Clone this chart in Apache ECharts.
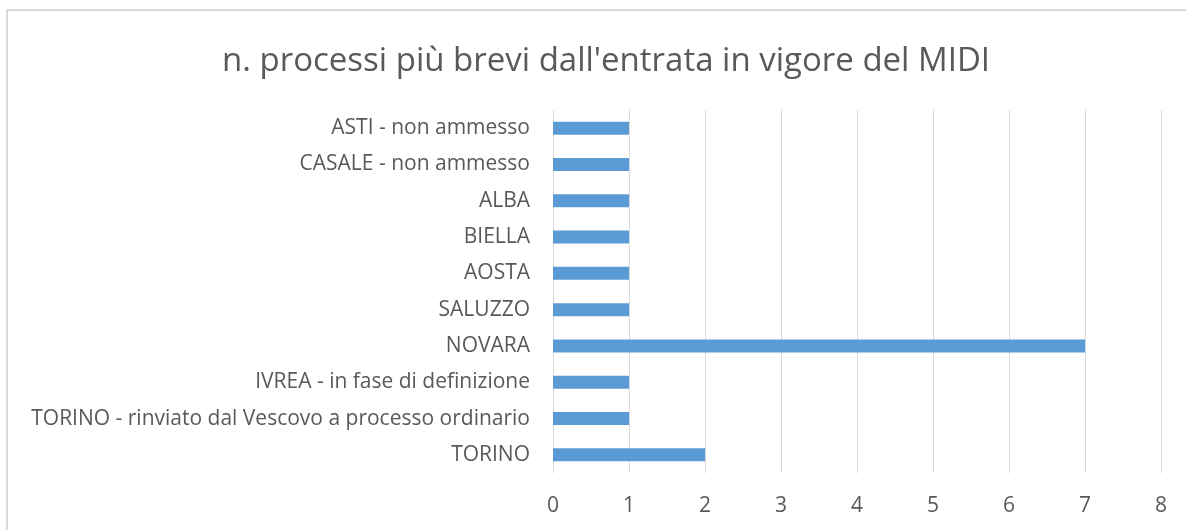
<!DOCTYPE html>
<html>
<head>
<meta charset="utf-8">
<script src="https://cdn.jsdelivr.net/npm/echarts@6/dist/echarts.min.js"></script>
<style>
	html, body { margin: 0; padding: 0; background: #fff; overflow: hidden; }
	#chart { width: 1186px; height: 530px; }
</style>
</head>
<body>
<div id="chart"></div>
<script>
// categories, bottom to top (as on the y axis)
var categories = [
	"TORINO",
	"TORINO - rinviato dal Vescovo a processo ordinario",
	"IVREA - in fase di definizione",
	"NOVARA",
	"SALUZZO",
	"AOSTA",
	"BIELLA",
	"ALBA",
	"CASALE - non ammesso",
	"ASTI - non ammesso"
];
var values = [2, 1, 1, 7, 1, 1, 1, 1, 1, 1];
var xTicks = [0, 1, 2, 3, 4, 5, 6, 7, 8];

var font = "'Open Sans', 'Noto Sans', sans-serif";
var textColor = "#595959";

var myChart = echarts.init(document.getElementById("chart"));
var option = {
	animation: false,
	textStyle: { fontFamily: font },
	title: {
		text: "n. processi più brevi dall'entrata in vigore del MIDI",
		left: 217,
		top: 40,
		textStyle: {
			color: textColor,
			fontSize: 33,
			fontWeight: "normal",
			fontFamily: font
		}
	},
	// chart frame: only top and left edges are inside the picture
	graphic: [{
		type: "polyline",
		shape: { points: [[7, 600], [7, 10], [1300, 10]] },
		style: { fill: null, stroke: "#d9d9d9", lineWidth: 2 },
		silent: true
	}],
	grid: {
		left: 553,
		right: 25,
		top: 110,
		bottom: 57,
		containLabel: false
	},
	xAxis: {
		type: "value",
		min: xTicks[0],
		max: xTicks[xTicks.length - 1],
		interval: 1,
		axisLine: { show: false },
		axisTick: { show: false },
		axisLabel: {
			color: textColor,
			fontSize: 21,
			margin: 23,
			fontFamily: font
		},
		splitLine: { lineStyle: { color: "#d9d9d9", width: 1 } }
	},
	yAxis: {
		type: "category",
		data: categories,
		axisLine: { show: false },
		axisTick: { show: false },
		axisLabel: {
			color: textColor,
			fontSize: 21,
			margin: 23,
			fontFamily: font
		}
	},
	series: [{
		type: "bar",
		data: values,
		barWidth: 13,
		itemStyle: { color: "#5b9bd5" }
	}]
};
myChart.setOption(option);
</script>
</body>
</html>
